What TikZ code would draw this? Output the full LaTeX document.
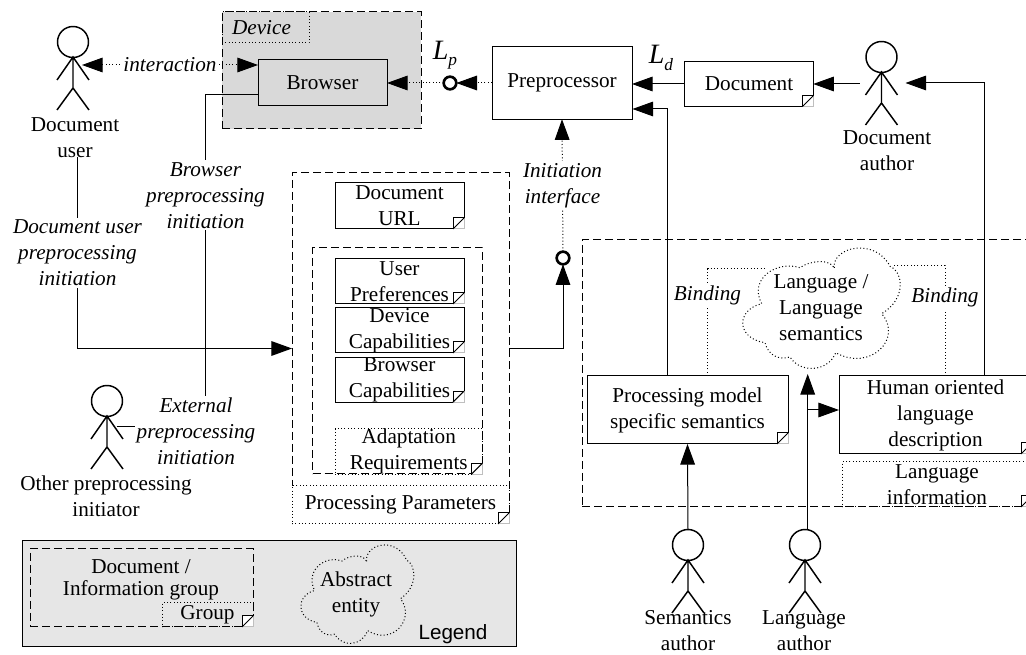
\documentclass[tikz,border=0pt]{standalone}
\usepackage{fontspec}
\setmainfont{Liberation Serif}
\setsansfont{Liberation Sans}
\usetikzlibrary{calc}
\usetikzlibrary{arrows.meta}

\definecolor{devicegray}{HTML}{D9D9D9}
\definecolor{legendgray}{HTML}{E6E6E6}

\tikzset{
  every node/.style={font=\fontsize{15.9}{19.5}\selectfont, align=center, inner sep=0pt, outer sep=0pt},
  boxsize/.style 2 args={minimum width=#1*0.75pt, minimum height=#2*0.75pt},
  thinline/.style={line width=0.75pt},
  dotline/.style={thinline, dash pattern=on 0.75pt off 1.75pt},
  dashline/.style={thinline, dash pattern=on 6pt off 3pt},
  docbox/.style={draw, thinline, fill=white},
  dashgroup/.style={draw, dashline},
  dotgroup/.style={draw, dotline},
  edgelabel/.style={fill=white, font=\fontsize{15.9}{19.5}\selectfont\itshape, inner sep=1.5pt},
  tip/.style={-{Triangle[length=15.5pt,width=11pt]}},
  twotips/.style={{Triangle[length=15.5pt,width=11pt]}-{Triangle[length=15.5pt,width=11pt]}},
  iface/.style={circle, draw, fill=white, line width=2pt, minimum size=9.5pt},
  stick/.style={line width=1.1pt},
}

\newcommand\foldcorner[1]{
  \draw [thinline, fill=white] ([shift={(-11,-11)}]#1.south east) rectangle (#1.south east);
  \draw [thinline, gray!50] ([shift={(0,-11)}]#1.south east) -- (#1.south east) -- ([shift={(-11,0)}]#1.south east);
  \draw [thinline] ([shift={(-11,0)}]#1.south east) -- ([shift={(0,-11)}]#1.south east);
}

\newcommand\cloudat[2]{
  \draw [dotline, shift={#1}, #2] (13.3,-40) .. controls (10.7,-61) and (54,-71) .. (69,-41.7)
    .. controls (82.3,-36) and (85.7,-9.3) .. (60.7,5.7)
    .. controls (82.3,30.7) and (49,64) .. (14.7,44.7)
    .. controls (7.3,64) and (-21,65.7) .. (-31,49)
    .. controls (-42.7,52.3) and (-52.7,47.3) .. (-56,34.7)
    .. controls (-84.3,30.7) and (-86,2.3) .. (-59.3,-4.3)
    .. controls (-72.7,-29.3) and (-44.3,-47.7) .. (-21,-40.3)
    .. controls (-11,-47.7) and (9,-49.3) .. cycle;
}

\begin{document}
\begin{tikzpicture}[x=0.75pt, y=-0.75pt]
  \clip (0,0) rectangle (1026,655);

  % device
  \node [dashgroup, fill=devicegray, boxsize={199}{117}] (device) at (321.5,70.5) {};
  \node [dotgroup, boxsize={87}{31}, font=\fontsize{15.9}{19.5}\selectfont\itshape] (devicename) at (265.5,27.5) {\hspace{-6pt}Device};
  \node [docbox, fill=devicegray, boxsize={129}{46}] (browser) at (322.5,83) {Browser};

  % preprocessor and document
  \node [docbox, boxsize={140}{72.5}] (preproc) at (562,83) {Preprocessor};
  \node [docbox, boxsize={128.5}{45.5}] (document) at (749,84) {Document};
  \foldcorner{document}
  \node (lplabel) at (445,55) {\fontsize{21}{21}\selectfont\itshape L\raisebox{-0.5ex}{\fontsize{13}{13}\selectfont p}};
  \node (ldlabel) at (661,58) {\fontsize{21}{21}\selectfont\itshape L\raisebox{-0.5ex}{\fontsize{13}{13}\selectfont d}};
  \node [iface] (lpface) at (450,83) {};
  \node [iface] (initface) at (563,258) {};

  % processing parameters
  \node [dashgroup, boxsize={217}{351}] (paramgroup) at (400.5,348.5) {};
  \node [dashgroup, boxsize={170}{226}] (prefgroup) at (397.5,361) {};
  \node [docbox, boxsize={129}{46}] (docurl) at (399.5,206) {Document\\URL};
  \foldcorner{docurl}
  \node [docbox, boxsize={129}{45}] (userpref) at (399.5,281.5) {User\\Preferences\hspace{7pt}};
  \foldcorner{userpref}
  \node [docbox, boxsize={129}{45}] (devcap) at (399.5,330.5) {Device\\Capabilities\hspace{7pt}};
  \foldcorner{devcap}
  \node [docbox, boxsize={129}{44}] (browsercap) at (399.5,380) {Browser\\Capabilities\hspace{7pt}};
  \foldcorner{browsercap}
  \node [dotgroup, boxsize={147.5}{45}] (adaptreq) at (408.75,451.5) {Adaptation\\Requirements\hspace{7pt}};
  \foldcorner{adaptreq}
  \node [dotgroup, fill=white, boxsize={217}{38}] (paramdoc) at (400.5,505) {Processing Parameters};
  \foldcorner{paramdoc}

  % language group
  \node [dashgroup, boxsize={470}{267}] (langgroup) at (817,373.5) {};
  \cloudat{(821,308)}{}
  \node (langcloud) at (821,308) {Language /\\Language\\semantics};
  \node [docbox, boxsize={201}{68}] (procmodel) at (687.5,410) {Processing model\\specific semantics};
  \foldcorner{procmodel}
  \node [docbox, boxsize={193}{78}] (human) at (935.5,415) {Human oriented\\language\\description};
  \foldcorner{human}
  \node [dotgroup, boxsize={190}{45}] (langinfo) at (937,484.5) {Language\\information};
  \foldcorner{langinfo}

  % actors
  \foreach \n/\x/\y in {docuser/73/42,otheruser/107/401,docauthor/881.5/57,semauthor/688/545,langauthor/805/545}{
    \node [circle, draw, stick, minimum size=31*0.75pt] (\n) at (\x,\y) {};
    \draw [stick, shift={(\x,\y)}] (-16,38) -- (0,15) -- (16,38) (0,15) -- (0,46) (-16,68) -- (0,46) -- (16,68);
  }
  \node (docuserlabel) at (75,138) {Document\\user};
  \node (otherlabel) at (106,496) {Other preprocessing\\initiator};
  \node (docauthorlabel) at (887,151) {Document\\author};
  \node (semlabel) at (688,631) {Semantics\\author};
  \node (langlabel) at (804,631) {Language\\author};

  % free ends
  \coordinate (userhand) at (82,65);
  \coordinate (browserin) at (258,65);
  \coordinate (browserout) at (258,95);
  \coordinate (useroff) at (77.5,157);
  \coordinate (joinpt) at (205.5,348);
  \coordinate (otherhand) at (116.5,427);
  \coordinate (authorhand) at (859.5,84);
  \coordinate (authorin) at (905.5,83);
  \coordinate (prepin) at (632.5,109);
  \coordinate (procout) at (667,376);
  \coordinate (humanout) at (984,376);
  \coordinate (langtop) at (807.7,530);
  \coordinate (langtip) at (807.7,374);
  \coordinate (langbranch) at (807.7,410);
  \coordinate (bindleft) at (707.5,269);
  \coordinate (bindright) at (945,266);
  \coordinate (cloudleft) at (765,269);
  \coordinate (cloudright) at (892,266);

  % connectors
  \draw [dotline, twotips] (userhand) -- node [edgelabel, pos=.5] (interlabel) {interaction} (browserin);
  \draw [dotline, tip] (preproc.west) -- (lpface.east);
  \draw [dotline, tip] (lpface.west) -- (browser.east);
  \draw [thinline, tip] (document.west) -- (document.west -| preproc.east);
  \draw [thinline, tip] (authorhand) -- (document.east);
  \draw [thinline, tip] (humanout) |- (authorin);
  \draw [thinline, tip] (procout) |- (prepin);
  \draw [dotline, tip] (initface.north) -- node [edgelabel] (initlabel) {Initiation\\interface} (preproc.south);
  \draw [thinline, tip] (paramgroup.east) -| (initface.south);
  \draw [thinline, tip] (useroff) |- node [edgelabel, pos=.25] (userprep) {Document user\\preprocessing\\initiation} (paramgroup.west);
  \draw [thinline] (browserout) -| node [edgelabel, pos=.698] (browserprep) {Browser\\preprocessing\\initiation} (joinpt);
  \draw [thinline] (otherhand) -| (joinpt);
  \node [edgelabel] (otherprep) at (196,431) {External\\preprocessing\\initiation};
  \draw [thinline, tip] (semauthor.north) -- (procmodel.south);
  \draw [thinline, tip] (langtop) -- (langtip);
  \draw [thinline, tip] (langbranch) -- (langbranch -| human.west);
  \draw [dotline] (procmodel.north -| bindleft) -- node [edgelabel, pos=.75] (bindlabela) {Binding} (bindleft) -- (cloudleft);
  \draw [dotline] (human.north -| bindright) -- node [edgelabel, pos=.71] (bindlabelb) {Binding} (bindright) -- (cloudright);

  % legend
  \node [draw, thinline, fill=legendgray, boxsize={494}{106}] (legend) at (269,594) {};
  \node [dashgroup, boxsize={223}{78}] (legendgroup) at (141.5,588) {};
  \node [font=\fontsize{15.9}{16.5}\selectfont] (legenddoc) at (141,579.5) {Document /\\Information group};
  \node [dotgroup, boxsize={91}{24}] (legendsub) at (207.5,615) {\raisebox{1pt}{Group}};
  \foldcorner{legendsub}
  \cloudat{(357,594)}{xscale=.717, yscale=.818}
  \node (legendcloud) at (356,594) {Abstract\\entity};
  \node [font=\fontsize{15.5}{19}\selectfont\sffamily] (legendname) at (453,634) {Legend};
\end{tikzpicture}
\end{document}
